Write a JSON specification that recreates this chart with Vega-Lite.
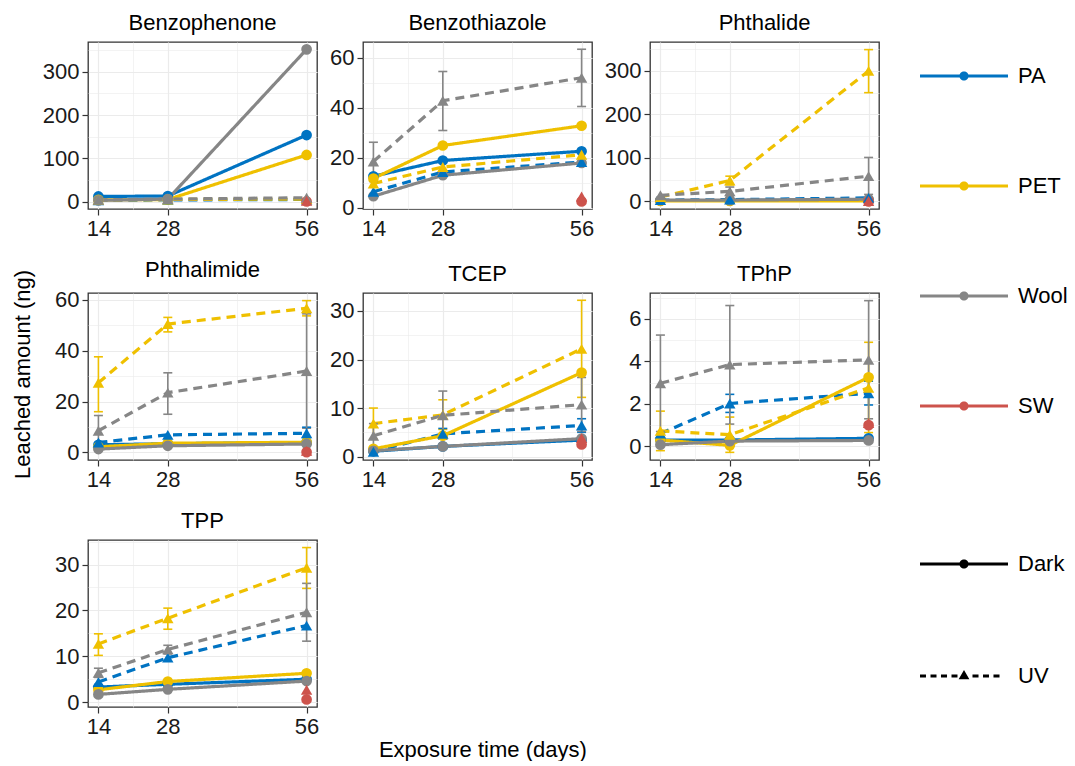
{
"$schema": "https://vega.github.io/schema/vega-lite/v6.json",
"padding": {"left": 11, "top": 11, "right": 5, "bottom": 0},
"data": {"values": [
{"c":"Benzophenone","m":"PA","t":"Dark","d":14,"v":12},
{"c":"Benzophenone","m":"PA","t":"Dark","d":28,"v":13},
{"c":"Benzophenone","m":"PA","t":"Dark","d":56,"v":154},
{"c":"Benzophenone","m":"PA","t":"UV","d":14,"v":3},
{"c":"Benzophenone","m":"PA","t":"UV","d":28,"v":4},
{"c":"Benzophenone","m":"PA","t":"UV","d":56,"v":5},
{"c":"Benzophenone","m":"PET","t":"Dark","d":14,"v":4},
{"c":"Benzophenone","m":"PET","t":"Dark","d":28,"v":5},
{"c":"Benzophenone","m":"PET","t":"Dark","d":56,"v":108},
{"c":"Benzophenone","m":"PET","t":"UV","d":14,"v":4},
{"c":"Benzophenone","m":"PET","t":"UV","d":28,"v":5},
{"c":"Benzophenone","m":"PET","t":"UV","d":56,"v":6},
{"c":"Benzophenone","m":"Wool","t":"Dark","d":14,"v":3},
{"c":"Benzophenone","m":"Wool","t":"Dark","d":28,"v":6},
{"c":"Benzophenone","m":"Wool","t":"Dark","d":56,"v":352},
{"c":"Benzophenone","m":"Wool","t":"UV","d":14,"v":4},
{"c":"Benzophenone","m":"Wool","t":"UV","d":28,"v":6},
{"c":"Benzophenone","m":"Wool","t":"UV","d":56,"v":9},
{"c":"Benzophenone","m":"SW","t":"Dark","d":56,"v":0.5},
{"c":"Benzophenone","m":"SW","t":"UV","d":56,"v":2},

{"c":"Benzothiazole","m":"PA","t":"Dark","d":14,"v":12.6},
{"c":"Benzothiazole","m":"PA","t":"Dark","d":28,"v":18.9},
{"c":"Benzothiazole","m":"PA","t":"Dark","d":56,"v":22.6},
{"c":"Benzothiazole","m":"PA","t":"UV","d":14,"v":6.4},
{"c":"Benzothiazole","m":"PA","t":"UV","d":28,"v":14.3},
{"c":"Benzothiazole","m":"PA","t":"UV","d":56,"v":18.3},
{"c":"Benzothiazole","m":"PET","t":"Dark","d":14,"v":11.7},
{"c":"Benzothiazole","m":"PET","t":"Dark","d":28,"v":24.9},
{"c":"Benzothiazole","m":"PET","t":"Dark","d":56,"v":32.8},
{"c":"Benzothiazole","m":"PET","t":"UV","d":14,"v":9.7},
{"c":"Benzothiazole","m":"PET","t":"UV","d":28,"v":16.3},
{"c":"Benzothiazole","m":"PET","t":"UV","d":56,"v":21.2},
{"c":"Benzothiazole","m":"Wool","t":"Dark","d":14,"v":4.6},
{"c":"Benzothiazole","m":"Wool","t":"Dark","d":28,"v":13.0},
{"c":"Benzothiazole","m":"Wool","t":"Dark","d":56,"v":17.9},
{"c":"Benzothiazole","m":"Wool","t":"UV","d":14,"v":18.5,"lo":10.5,"hi":26.2},
{"c":"Benzothiazole","m":"Wool","t":"UV","d":28,"v":42.8,"lo":30.9,"hi":54.5},
{"c":"Benzothiazole","m":"Wool","t":"UV","d":56,"v":52,"lo":40.5,"hi":63.4},
{"c":"Benzothiazole","m":"SW","t":"Dark","d":56,"v":2.5},
{"c":"Benzothiazole","m":"SW","t":"UV","d":56,"v":4.5},

{"c":"Phthalide","m":"PA","t":"Dark","d":14,"v":2},
{"c":"Phthalide","m":"PA","t":"Dark","d":28,"v":2},
{"c":"Phthalide","m":"PA","t":"Dark","d":56,"v":3},
{"c":"Phthalide","m":"PA","t":"UV","d":14,"v":3},
{"c":"Phthalide","m":"PA","t":"UV","d":28,"v":4},
{"c":"Phthalide","m":"PA","t":"UV","d":56,"v":8},
{"c":"Phthalide","m":"PET","t":"Dark","d":14,"v":1},
{"c":"Phthalide","m":"PET","t":"Dark","d":28,"v":1},
{"c":"Phthalide","m":"PET","t":"Dark","d":56,"v":1},
{"c":"Phthalide","m":"PET","t":"UV","d":14,"v":10},
{"c":"Phthalide","m":"PET","t":"UV","d":28,"v":48,"lo":38,"hi":58},
{"c":"Phthalide","m":"PET","t":"UV","d":56,"v":300,"lo":250,"hi":349},
{"c":"Phthalide","m":"Wool","t":"Dark","d":14,"v":3},
{"c":"Phthalide","m":"Wool","t":"Dark","d":28,"v":3},
{"c":"Phthalide","m":"Wool","t":"Dark","d":56,"v":5},
{"c":"Phthalide","m":"Wool","t":"UV","d":14,"v":14},
{"c":"Phthalide","m":"Wool","t":"UV","d":28,"v":23,"lo":13,"hi":33},
{"c":"Phthalide","m":"Wool","t":"UV","d":56,"v":58,"lo":16,"hi":101},
{"c":"Phthalide","m":"SW","t":"Dark","d":56,"v":0},
{"c":"Phthalide","m":"SW","t":"UV","d":56,"v":1},

{"c":"Phthalimide","m":"PA","t":"Dark","d":14,"v":3.0},
{"c":"Phthalimide","m":"PA","t":"Dark","d":28,"v":3.4},
{"c":"Phthalimide","m":"PA","t":"Dark","d":56,"v":3.9},
{"c":"Phthalimide","m":"PA","t":"UV","d":14,"v":3.9},
{"c":"Phthalimide","m":"PA","t":"UV","d":28,"v":6.9},
{"c":"Phthalimide","m":"PA","t":"UV","d":56,"v":7.5,"lo":5.1,"hi":9.9},
{"c":"Phthalimide","m":"PET","t":"Dark","d":14,"v":2.2},
{"c":"Phthalimide","m":"PET","t":"Dark","d":28,"v":3.6},
{"c":"Phthalimide","m":"PET","t":"Dark","d":56,"v":4.0},
{"c":"Phthalimide","m":"PET","t":"UV","d":14,"v":27.4,"lo":16,"hi":37.6},
{"c":"Phthalimide","m":"PET","t":"UV","d":28,"v":50.5,"lo":47.4,"hi":53.1},
{"c":"Phthalimide","m":"PET","t":"UV","d":56,"v":56.7,"lo":53.7,"hi":59.7},
{"c":"Phthalimide","m":"Wool","t":"Dark","d":14,"v":1.3},
{"c":"Phthalimide","m":"Wool","t":"Dark","d":28,"v":2.6},
{"c":"Phthalimide","m":"Wool","t":"Dark","d":56,"v":3.3},
{"c":"Phthalimide","m":"Wool","t":"UV","d":14,"v":8.5,"lo":2.5,"hi":14.5},
{"c":"Phthalimide","m":"Wool","t":"UV","d":28,"v":23.5,"lo":15,"hi":31.3},
{"c":"Phthalimide","m":"Wool","t":"UV","d":56,"v":32,"lo":9.5,"hi":54.5},
{"c":"Phthalimide","m":"SW","t":"Dark","d":56,"v":0.1},
{"c":"Phthalimide","m":"SW","t":"UV","d":56,"v":0.6},

{"c":"TCEP","m":"PA","t":"Dark","d":14,"v":1.1},
{"c":"TCEP","m":"PA","t":"Dark","d":28,"v":2.1},
{"c":"TCEP","m":"PA","t":"Dark","d":56,"v":3.4},
{"c":"TCEP","m":"PA","t":"UV","d":14,"v":1.0},
{"c":"TCEP","m":"PA","t":"UV","d":28,"v":4.7,"lo":3.6,"hi":5.8},
{"c":"TCEP","m":"PA","t":"UV","d":56,"v":6.4,"lo":5.0,"hi":7.8},
{"c":"TCEP","m":"PET","t":"Dark","d":14,"v":1.6},
{"c":"TCEP","m":"PET","t":"Dark","d":28,"v":4.3},
{"c":"TCEP","m":"PET","t":"Dark","d":56,"v":17.3},
{"c":"TCEP","m":"PET","t":"UV","d":14,"v":6.8,"lo":3.6,"hi":10.0},
{"c":"TCEP","m":"PET","t":"UV","d":28,"v":8.6,"lo":5.6,"hi":11.7},
{"c":"TCEP","m":"PET","t":"UV","d":56,"v":22.2,"lo":12.2,"hi":32.2},
{"c":"TCEP","m":"Wool","t":"Dark","d":14,"v":1.2},
{"c":"TCEP","m":"Wool","t":"Dark","d":28,"v":2.1},
{"c":"TCEP","m":"Wool","t":"Dark","d":56,"v":3.7},
{"c":"TCEP","m":"Wool","t":"UV","d":14,"v":4.3,"lo":1.7,"hi":6.8},
{"c":"TCEP","m":"Wool","t":"UV","d":28,"v":8.5,"lo":3.6,"hi":13.5},
{"c":"TCEP","m":"Wool","t":"UV","d":56,"v":10.7,"lo":5.2,"hi":16.3},
{"c":"TCEP","m":"SW","t":"Dark","d":56,"v":2.5},
{"c":"TCEP","m":"SW","t":"UV","d":56,"v":3.8},

{"c":"TPhP","m":"PA","t":"Dark","d":14,"v":0.3},
{"c":"TPhP","m":"PA","t":"Dark","d":28,"v":0.3},
{"c":"TPhP","m":"PA","t":"Dark","d":56,"v":0.38},
{"c":"TPhP","m":"PA","t":"UV","d":14,"v":0.6},
{"c":"TPhP","m":"PA","t":"UV","d":28,"v":2.02,"lo":1.6,"hi":2.45},
{"c":"TPhP","m":"PA","t":"UV","d":56,"v":2.5,"lo":1.95,"hi":3.07},
{"c":"TPhP","m":"PET","t":"Dark","d":14,"v":0.3},
{"c":"TPhP","m":"PET","t":"Dark","d":28,"v":0.05},
{"c":"TPhP","m":"PET","t":"Dark","d":56,"v":3.25},
{"c":"TPhP","m":"PET","t":"UV","d":14,"v":0.73,"lo":-0.2,"hi":1.66},
{"c":"TPhP","m":"PET","t":"UV","d":28,"v":0.55,"lo":-0.28,"hi":1.38},
{"c":"TPhP","m":"PET","t":"UV","d":56,"v":2.76,"lo":0.65,"hi":4.9},
{"c":"TPhP","m":"Wool","t":"Dark","d":14,"v":0.08},
{"c":"TPhP","m":"Wool","t":"Dark","d":28,"v":0.25},
{"c":"TPhP","m":"Wool","t":"Dark","d":56,"v":0.28},
{"c":"TPhP","m":"Wool","t":"UV","d":14,"v":2.97,"lo":0.7,"hi":5.24},
{"c":"TPhP","m":"Wool","t":"UV","d":28,"v":3.85,"lo":1.05,"hi":6.63},
{"c":"TPhP","m":"Wool","t":"UV","d":56,"v":4.07,"lo":1.3,"hi":6.86},
{"c":"TPhP","m":"SW","t":"Dark","d":56,"v":1.0},
{"c":"TPhP","m":"SW","t":"UV","d":56,"v":1.1},

{"c":"TPP","m":"PA","t":"Dark","d":14,"v":3.3},
{"c":"TPP","m":"PA","t":"Dark","d":28,"v":3.9},
{"c":"TPP","m":"PA","t":"Dark","d":56,"v":5.0},
{"c":"TPP","m":"PA","t":"UV","d":14,"v":4.4},
{"c":"TPP","m":"PA","t":"UV","d":28,"v":9.7},
{"c":"TPP","m":"PA","t":"UV","d":56,"v":16.7},
{"c":"TPP","m":"PET","t":"Dark","d":14,"v":2.7},
{"c":"TPP","m":"PET","t":"Dark","d":28,"v":4.5},
{"c":"TPP","m":"PET","t":"Dark","d":56,"v":6.3},
{"c":"TPP","m":"PET","t":"UV","d":14,"v":12.7,"lo":10.2,"hi":14.9},
{"c":"TPP","m":"PET","t":"UV","d":28,"v":18.3,"lo":15.9,"hi":20.5},
{"c":"TPP","m":"PET","t":"UV","d":56,"v":29.3,"lo":24.8,"hi":33.7},
{"c":"TPP","m":"Wool","t":"Dark","d":14,"v":1.7},
{"c":"TPP","m":"Wool","t":"Dark","d":28,"v":2.8},
{"c":"TPP","m":"Wool","t":"Dark","d":56,"v":4.6},
{"c":"TPP","m":"Wool","t":"UV","d":14,"v":6.4,"lo":5.4,"hi":7.4},
{"c":"TPP","m":"Wool","t":"UV","d":28,"v":11.5,"lo":10.5,"hi":12.4},
{"c":"TPP","m":"Wool","t":"UV","d":56,"v":19.6,"lo":13.3,"hi":25.9},
{"c":"TPP","m":"SW","t":"Dark","d":56,"v":0.6},
{"c":"TPP","m":"SW","t":"UV","d":56,"v":2.7}
]},
"title": {"text": "Exposure time (days)", "orient": "bottom", "anchor": "middle", "frame": "bounds", "dx": -57, "offset": 2},
"resolve": {"scale": {"x": "independent", "y": "independent"}},
"vconcat": [
{
"title": {"text": "Leached amount (ng)", "orient": "left", "anchor": "middle", "frame": "bounds", "offset": 7},
"columns": 3,
"spacing": {"row": 18, "column": 8},
"align": "each",
"resolve": {"scale": {"x": "independent", "y": "independent"}},
"concat": [
{
 "title": {"text": "Benzophenone"},
 "width": 229, "height": 167,
 "transform": [{"filter": "datum.c === 'Benzophenone'"}],
 "encoding": {
  "x": {"field": "d", "type": "quantitative", "scale": {"domain": [11.9, 58.1], "nice": false, "zero": false}, "axis": {"title": null, "values": [14,21,28,42,56], "labelExpr": "(datum.value === 21 || datum.value === 42) ? '' : datum.label", "labelFontSize": {"condition": {"test": "datum.value === 21 || datum.value === 42", "value": 0}, "value": 22}, "gridWidth": {"condition": {"test": "datum.value === 21 || datum.value === 42", "value": 0.6}, "value": 1.2}, "tickOpacity": {"condition": {"test": "datum.value === 21 || datum.value === 42", "value": 0}, "value": 1}}},
  "y": {"field": "v", "type": "quantitative", "scale": {"domain": [-17, 369], "nice": false, "zero": false}, "axis": {"title": null, "values": [0,50,100,150,200,250,300,350], "labelExpr": "datum.value % 100 === 0 ? datum.label : ''", "labelFontSize": {"condition": {"test": "datum.value % 100 !== 0", "value": 0}, "value": 22}, "gridWidth": {"condition": {"test": "datum.value % 100 !== 0", "value": 0.6}, "value": 1.2}, "tickOpacity": {"condition": {"test": "datum.value % 100 !== 0", "value": 0}, "value": 1}}},
  "color": {"field": "m", "type": "nominal", "scale": {"domain": ["PA","PET","Wool","SW"], "range": ["#0073C2","#EFC000","#868686","#CD534C"]},
   "legend": {"orient": "none", "legendX": 832, "legendY": -10, "title": null, "padding": 0, "symbolType": "M-1,-0.034H1V0.034H-1ZM0.105,0A0.105,0.105,0,1,1,-0.105,0A0.105,0.105,0,1,1,0.105,0Z", "symbolSize": 7744, "symbolStrokeWidth": 0, "symbolOpacity": 1, "labelOffset": 10, "rowPadding": 55, "labelFontSize": 22, "labelColor": "black",
    "encoding": {"symbols": {"shape": {"value": "M-1,-0.034H1V0.034H-1ZM0.105,0A0.105,0.105,0,1,1,-0.105,0A0.105,0.105,0,1,1,0.105,0Z"}, "strokeWidth": {"value": 0}, "opacity": {"value": 1}, "size": {"value": 7744}}}}}
 },
 "layer": [
  {"mark": {"type": "line", "strokeWidth": 3.2}, "encoding": {"strokeDash": {"field": "t", "type": "nominal", "scale": {"domain": ["Dark","UV"], "range": [[1,0],[9,6]]},
   "legend": {"orient": "none", "legendX": 832, "legendY": 478, "title": null, "padding": 0, "symbolSize": 7744, "symbolStrokeWidth": 0, "symbolOpacity": 1, "labelOffset": 10, "rowPadding": 57, "labelFontSize": 22, "labelColor": "black",
    "encoding": {"symbols": {"shape": {"condition": {"test": "datum.value === 'Dark'", "value": "M-1,-0.034H1V0.034H-1ZM0.105,0A0.105,0.105,0,1,1,-0.105,0A0.105,0.105,0,1,1,0.105,0Z"}, "value": "M-1,-0.034H-0.864V0.034H-1ZM-0.761,-0.034H-0.625V0.034H-0.761ZM-0.523,-0.034H-0.386V0.034H-0.523ZM-0.284,-0.034H-0.148V0.034H-0.284ZM0.193,-0.034H0.33V0.034H0.193ZM0.432,-0.034H0.568V0.034H0.432ZM0.67,-0.034H0.807V0.034H0.67ZM0,-0.136L0.122,0.076L-0.122,0.076Z"}, "fill": {"value": "black"}, "stroke": {"value": "transparent"}, "strokeWidth": {"value": 0}, "opacity": {"value": 1}, "size": {"value": 7744}}}}}}},
  {"transform": [{"filter": "isValid(datum.lo)"}], "mark": {"type": "errorbar", "ticks": {"opacity": 1}, "size": 9, "thickness": 1.6}, "encoding": {"y": {"field": "lo", "type": "quantitative", "scale": {"domain": [-17, 369], "nice": false, "zero": false}}, "y2": {"field": "hi"}}},
  {"transform": [{"filter": "datum.t === 'Dark'"}], "mark": {"type": "point", "shape": "circle", "filled": true, "size": 115, "opacity": 1}},
  {"transform": [{"filter": "datum.t === 'UV'"}], "mark": {"type": "point", "shape": "triangle-up", "filled": true, "size": 130, "opacity": 1}}
 ]
},
{
 "title": {"text": "Benzothiazole"},
 "width": 229, "height": 167,
 "transform": [{"filter": "datum.c === 'Benzothiazole'"}],
 "encoding": {
  "x": {"field": "d", "type": "quantitative", "scale": {"domain": [11.9, 58.1], "nice": false, "zero": false}, "axis": {"title": null, "values": [14,21,28,42,56], "labelExpr": "(datum.value === 21 || datum.value === 42) ? '' : datum.label", "labelFontSize": {"condition": {"test": "datum.value === 21 || datum.value === 42", "value": 0}, "value": 22}, "gridWidth": {"condition": {"test": "datum.value === 21 || datum.value === 42", "value": 0.6}, "value": 1.2}, "tickOpacity": {"condition": {"test": "datum.value === 21 || datum.value === 42", "value": 0}, "value": 1}}},
  "y": {"field": "v", "type": "quantitative", "scale": {"domain": [-0.5, 66.3], "nice": false, "zero": false}, "axis": {"title": null, "values": [0,10,20,30,40,50,60], "labelExpr": "datum.value % 20 === 0 ? datum.label : ''", "labelFontSize": {"condition": {"test": "datum.value % 20 !== 0", "value": 0}, "value": 22}, "gridWidth": {"condition": {"test": "datum.value % 20 !== 0", "value": 0.6}, "value": 1.2}, "tickOpacity": {"condition": {"test": "datum.value % 20 !== 0", "value": 0}, "value": 1}}},
  "color": {"field": "m", "type": "nominal", "scale": {"domain": ["PA","PET","Wool","SW"], "range": ["#0073C2","#EFC000","#868686","#CD534C"]}}
 },
 "layer": [
  {"mark": {"type": "line", "strokeWidth": 3.2}, "encoding": {"strokeDash": {"field": "t", "type": "nominal", "scale": {"domain": ["Dark","UV"], "range": [[1,0],[9,6]]}}}},
  {"transform": [{"filter": "isValid(datum.lo)"}], "mark": {"type": "errorbar", "ticks": {"opacity": 1}, "size": 9, "thickness": 1.6}, "encoding": {"y": {"field": "lo", "type": "quantitative", "scale": {"domain": [-0.5, 66.3], "nice": false, "zero": false}}, "y2": {"field": "hi"}}},
  {"transform": [{"filter": "datum.t === 'Dark'"}], "mark": {"type": "point", "shape": "circle", "filled": true, "size": 115, "opacity": 1}},
  {"transform": [{"filter": "datum.t === 'UV'"}], "mark": {"type": "point", "shape": "triangle-up", "filled": true, "size": 130, "opacity": 1}}
 ]
},
{
 "title": {"text": "Phthalide"},
 "width": 229, "height": 167,
 "transform": [{"filter": "datum.c === 'Phthalide'"}],
 "encoding": {
  "x": {"field": "d", "type": "quantitative", "scale": {"domain": [11.9, 58.1], "nice": false, "zero": false}, "axis": {"title": null, "values": [14,21,28,42,56], "labelExpr": "(datum.value === 21 || datum.value === 42) ? '' : datum.label", "labelFontSize": {"condition": {"test": "datum.value === 21 || datum.value === 42", "value": 0}, "value": 22}, "gridWidth": {"condition": {"test": "datum.value === 21 || datum.value === 42", "value": 0.6}, "value": 1.2}, "tickOpacity": {"condition": {"test": "datum.value === 21 || datum.value === 42", "value": 0}, "value": 1}}},
  "y": {"field": "v", "type": "quantitative", "scale": {"domain": [-17.5, 366.5], "nice": false, "zero": false}, "axis": {"title": null, "values": [0,50,100,150,200,250,300,350], "labelExpr": "datum.value % 100 === 0 ? datum.label : ''", "labelFontSize": {"condition": {"test": "datum.value % 100 !== 0", "value": 0}, "value": 22}, "gridWidth": {"condition": {"test": "datum.value % 100 !== 0", "value": 0.6}, "value": 1.2}, "tickOpacity": {"condition": {"test": "datum.value % 100 !== 0", "value": 0}, "value": 1}}},
  "color": {"field": "m", "type": "nominal", "scale": {"domain": ["PA","PET","Wool","SW"], "range": ["#0073C2","#EFC000","#868686","#CD534C"]}}
 },
 "layer": [
  {"mark": {"type": "line", "strokeWidth": 3.2}, "encoding": {"strokeDash": {"field": "t", "type": "nominal", "scale": {"domain": ["Dark","UV"], "range": [[1,0],[9,6]]}}}},
  {"transform": [{"filter": "isValid(datum.lo)"}], "mark": {"type": "errorbar", "ticks": {"opacity": 1}, "size": 9, "thickness": 1.6}, "encoding": {"y": {"field": "lo", "type": "quantitative", "scale": {"domain": [-17.5, 366.5], "nice": false, "zero": false}}, "y2": {"field": "hi"}}},
  {"transform": [{"filter": "datum.t === 'Dark'"}], "mark": {"type": "point", "shape": "circle", "filled": true, "size": 115, "opacity": 1}},
  {"transform": [{"filter": "datum.t === 'UV'"}], "mark": {"type": "point", "shape": "triangle-up", "filled": true, "size": 130, "opacity": 1}}
 ]
},
{
 "title": {"text": "Phthalimide"},
 "width": 229, "height": 167,
 "transform": [{"filter": "datum.c === 'Phthalimide'"}],
 "encoding": {
  "x": {"field": "d", "type": "quantitative", "scale": {"domain": [11.9, 58.1], "nice": false, "zero": false}, "axis": {"title": null, "values": [14,21,28,42,56], "labelExpr": "(datum.value === 21 || datum.value === 42) ? '' : datum.label", "labelFontSize": {"condition": {"test": "datum.value === 21 || datum.value === 42", "value": 0}, "value": 22}, "gridWidth": {"condition": {"test": "datum.value === 21 || datum.value === 42", "value": 0.6}, "value": 1.2}, "tickOpacity": {"condition": {"test": "datum.value === 21 || datum.value === 42", "value": 0}, "value": 1}}},
  "y": {"field": "v", "type": "quantitative", "scale": {"domain": [-3, 62.7], "nice": false, "zero": false}, "axis": {"title": null, "values": [0,10,20,30,40,50,60], "labelExpr": "datum.value % 20 === 0 ? datum.label : ''", "labelFontSize": {"condition": {"test": "datum.value % 20 !== 0", "value": 0}, "value": 22}, "gridWidth": {"condition": {"test": "datum.value % 20 !== 0", "value": 0.6}, "value": 1.2}, "tickOpacity": {"condition": {"test": "datum.value % 20 !== 0", "value": 0}, "value": 1}}},
  "color": {"field": "m", "type": "nominal", "scale": {"domain": ["PA","PET","Wool","SW"], "range": ["#0073C2","#EFC000","#868686","#CD534C"]}}
 },
 "layer": [
  {"mark": {"type": "line", "strokeWidth": 3.2}, "encoding": {"strokeDash": {"field": "t", "type": "nominal", "scale": {"domain": ["Dark","UV"], "range": [[1,0],[9,6]]}}}},
  {"transform": [{"filter": "isValid(datum.lo)"}], "mark": {"type": "errorbar", "ticks": {"opacity": 1}, "size": 9, "thickness": 1.6}, "encoding": {"y": {"field": "lo", "type": "quantitative", "scale": {"domain": [-3, 62.7], "nice": false, "zero": false}}, "y2": {"field": "hi"}}},
  {"transform": [{"filter": "datum.t === 'Dark'"}], "mark": {"type": "point", "shape": "circle", "filled": true, "size": 115, "opacity": 1}},
  {"transform": [{"filter": "datum.t === 'UV'"}], "mark": {"type": "point", "shape": "triangle-up", "filled": true, "size": 130, "opacity": 1}}
 ]
},
{
 "title": {"text": "TCEP"},
 "width": 229, "height": 167,
 "transform": [{"filter": "datum.c === 'TCEP'"}],
 "encoding": {
  "x": {"field": "d", "type": "quantitative", "scale": {"domain": [11.9, 58.1], "nice": false, "zero": false}, "axis": {"title": null, "values": [14,21,28,42,56], "labelExpr": "(datum.value === 21 || datum.value === 42) ? '' : datum.label", "labelFontSize": {"condition": {"test": "datum.value === 21 || datum.value === 42", "value": 0}, "value": 22}, "gridWidth": {"condition": {"test": "datum.value === 21 || datum.value === 42", "value": 0.6}, "value": 1.2}, "tickOpacity": {"condition": {"test": "datum.value === 21 || datum.value === 42", "value": 0}, "value": 1}}},
  "y": {"field": "v", "type": "quantitative", "scale": {"domain": [-0.7, 33.7], "nice": false, "zero": false}, "axis": {"title": null, "values": [0,5,10,15,20,25,30], "labelExpr": "datum.value % 10 === 0 ? datum.label : ''", "labelFontSize": {"condition": {"test": "datum.value % 10 !== 0", "value": 0}, "value": 22}, "gridWidth": {"condition": {"test": "datum.value % 10 !== 0", "value": 0.6}, "value": 1.2}, "tickOpacity": {"condition": {"test": "datum.value % 10 !== 0", "value": 0}, "value": 1}}},
  "color": {"field": "m", "type": "nominal", "scale": {"domain": ["PA","PET","Wool","SW"], "range": ["#0073C2","#EFC000","#868686","#CD534C"]}}
 },
 "layer": [
  {"mark": {"type": "line", "strokeWidth": 3.2}, "encoding": {"strokeDash": {"field": "t", "type": "nominal", "scale": {"domain": ["Dark","UV"], "range": [[1,0],[9,6]]}}}},
  {"transform": [{"filter": "isValid(datum.lo)"}], "mark": {"type": "errorbar", "ticks": {"opacity": 1}, "size": 9, "thickness": 1.6}, "encoding": {"y": {"field": "lo", "type": "quantitative", "scale": {"domain": [-0.7, 33.7], "nice": false, "zero": false}}, "y2": {"field": "hi"}}},
  {"transform": [{"filter": "datum.t === 'Dark'"}], "mark": {"type": "point", "shape": "circle", "filled": true, "size": 115, "opacity": 1}},
  {"transform": [{"filter": "datum.t === 'UV'"}], "mark": {"type": "point", "shape": "triangle-up", "filled": true, "size": 130, "opacity": 1}}
 ]
},
{
 "title": {"text": "TPhP"},
 "width": 229, "height": 167,
 "transform": [{"filter": "datum.c === 'TPhP'"}],
 "encoding": {
  "x": {"field": "d", "type": "quantitative", "scale": {"domain": [11.9, 58.1], "nice": false, "zero": false}, "axis": {"title": null, "values": [14,21,28,42,56], "labelExpr": "(datum.value === 21 || datum.value === 42) ? '' : datum.label", "labelFontSize": {"condition": {"test": "datum.value === 21 || datum.value === 42", "value": 0}, "value": 22}, "gridWidth": {"condition": {"test": "datum.value === 21 || datum.value === 42", "value": 0.6}, "value": 1.2}, "tickOpacity": {"condition": {"test": "datum.value === 21 || datum.value === 42", "value": 0}, "value": 1}}},
  "y": {"field": "v", "type": "quantitative", "scale": {"domain": [-0.64, 7.22], "nice": false, "zero": false}, "axis": {"title": null, "values": [0,1,2,3,4,5,6,7], "labelExpr": "datum.value % 2 === 0 ? datum.label : ''", "labelFontSize": {"condition": {"test": "datum.value % 2 !== 0", "value": 0}, "value": 22}, "gridWidth": {"condition": {"test": "datum.value % 2 !== 0", "value": 0.6}, "value": 1.2}, "tickOpacity": {"condition": {"test": "datum.value % 2 !== 0", "value": 0}, "value": 1}}},
  "color": {"field": "m", "type": "nominal", "scale": {"domain": ["PA","PET","Wool","SW"], "range": ["#0073C2","#EFC000","#868686","#CD534C"]}}
 },
 "layer": [
  {"mark": {"type": "line", "strokeWidth": 3.2}, "encoding": {"strokeDash": {"field": "t", "type": "nominal", "scale": {"domain": ["Dark","UV"], "range": [[1,0],[9,6]]}}}},
  {"transform": [{"filter": "isValid(datum.lo)"}], "mark": {"type": "errorbar", "ticks": {"opacity": 1}, "size": 9, "thickness": 1.6}, "encoding": {"y": {"field": "lo", "type": "quantitative", "scale": {"domain": [-0.64, 7.22], "nice": false, "zero": false}}, "y2": {"field": "hi"}}},
  {"transform": [{"filter": "datum.t === 'Dark'"}], "mark": {"type": "point", "shape": "circle", "filled": true, "size": 115, "opacity": 1}},
  {"transform": [{"filter": "datum.t === 'UV'"}], "mark": {"type": "point", "shape": "triangle-up", "filled": true, "size": 130, "opacity": 1}}
 ]
},
{
 "title": {"text": "TPP"},
 "width": 229, "height": 167,
 "transform": [{"filter": "datum.c === 'TPP'"}],
 "encoding": {
  "x": {"field": "d", "type": "quantitative", "scale": {"domain": [11.9, 58.1], "nice": false, "zero": false}, "axis": {"title": null, "values": [14,21,28,42,56], "labelExpr": "(datum.value === 21 || datum.value === 42) ? '' : datum.label", "labelFontSize": {"condition": {"test": "datum.value === 21 || datum.value === 42", "value": 0}, "value": 22}, "gridWidth": {"condition": {"test": "datum.value === 21 || datum.value === 42", "value": 0.6}, "value": 1.2}, "tickOpacity": {"condition": {"test": "datum.value === 21 || datum.value === 42", "value": 0}, "value": 1}}},
  "y": {"field": "v", "type": "quantitative", "scale": {"domain": [-1.05, 35.35], "nice": false, "zero": false}, "axis": {"title": null, "values": [0,5,10,15,20,25,30,35], "labelExpr": "datum.value % 10 === 0 ? datum.label : ''", "labelFontSize": {"condition": {"test": "datum.value % 10 !== 0", "value": 0}, "value": 22}, "gridWidth": {"condition": {"test": "datum.value % 10 !== 0", "value": 0.6}, "value": 1.2}, "tickOpacity": {"condition": {"test": "datum.value % 10 !== 0", "value": 0}, "value": 1}}},
  "color": {"field": "m", "type": "nominal", "scale": {"domain": ["PA","PET","Wool","SW"], "range": ["#0073C2","#EFC000","#868686","#CD534C"]}}
 },
 "layer": [
  {"mark": {"type": "line", "strokeWidth": 3.2}, "encoding": {"strokeDash": {"field": "t", "type": "nominal", "scale": {"domain": ["Dark","UV"], "range": [[1,0],[9,6]]}}}},
  {"transform": [{"filter": "isValid(datum.lo)"}], "mark": {"type": "errorbar", "ticks": {"opacity": 1}, "size": 9, "thickness": 1.6}, "encoding": {"y": {"field": "lo", "type": "quantitative", "scale": {"domain": [-1.05, 35.35], "nice": false, "zero": false}}, "y2": {"field": "hi"}}},
  {"transform": [{"filter": "datum.t === 'Dark'"}], "mark": {"type": "point", "shape": "circle", "filled": true, "size": 115, "opacity": 1}},
  {"transform": [{"filter": "datum.t === 'UV'"}], "mark": {"type": "point", "shape": "triangle-up", "filled": true, "size": 130, "opacity": 1}}
 ]
}
]
}
],
"config": {
 "font": "Liberation Sans",
 "view": {"stroke": "#333333", "strokeWidth": 1.3},
 "axis": {"domain": false, "grid": true, "gridColor": "#EBEBEB", "labelFontSize": 22, "labelColor": "#1A1A1A", "labelFont": "Liberation Sans", "tickColor": "#333333", "tickSize": 6, "tickWidth": 1.2, "labelPadding": 3, "titleFontSize": 22, "titleFontWeight": "normal", "titleColor": "black", "titleFont": "Liberation Sans", "labelOverlap": false, "labelFlush": false},
 "title": {"fontSize": 22, "fontWeight": "normal", "color": "black", "font": "Liberation Sans", "offset": 7, "frame": "group", "anchor": "middle"},
 "legend": {"labelFont": "Liberation Sans"}
}
}
